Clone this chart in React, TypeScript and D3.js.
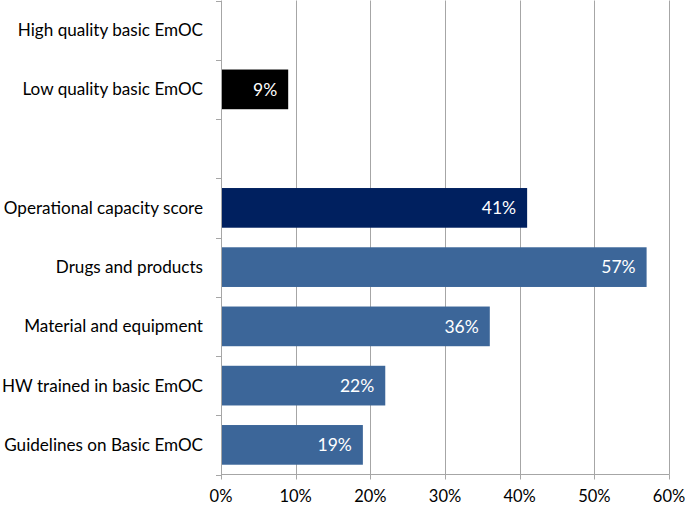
import React from "react";
import * as d3 from "d3";

const categories = [
  "High quality basic EmOC",
  "Low quality basic EmOC",
  "",
  "Operational capacity score",
  "Drugs and products",
  "Material and equipment",
  "HW trained in basic EmOC",
  "Guidelines on Basic EmOC",
];
const values: (number | null)[] = [null, 9, null, 41, 57, 36, 22, 19];
const barColors = ["#000000", "#000000", "#000000", "#00205F", "#3C6699", "#3C6699", "#3C6699", "#3C6699"];
const xTicks = [0, 10, 20, 30, 40, 50, 60];

const W = 685;
const H = 505;
const left = 221;
const right = 669;
const top = 0.5;
const bottom = 474.5;
const FONT = "Lato, 'Open Sans', sans-serif";

export default function App() {
  const x = d3.scaleLinear().domain([0, 60]).range([left, right]);
  const y = d3
    .scaleBand<number>()
    .domain(d3.range(categories.length))
    .range([top, bottom])
    .paddingInner(0.33)
    .paddingOuter(0.165);
  const step = y.step();
  const grid = "#A6A6A6";
  return (
    <svg width={W} height={H} style={{ position: "absolute", left: 0, top: 0, background: "#fff" }}>
      {xTicks.slice(1).map((t) => (
        <line key={"g" + t} x1={Math.round(x(t)) + 0.5} x2={Math.round(x(t)) + 0.5} y1={top} y2={bottom} stroke={grid} strokeWidth={1} />
      ))}
      {values.map((v, i) =>
        v == null ? null : (
          <g key={"b" + i}>
            <rect x={x(0)} y={y(i)} width={x(v) - x(0)} height={y.bandwidth()} fill={barColors[i]} />
            <text
              x={x(v) - 11}
              y={(y(i) as number) + y.bandwidth() / 2}
              dy="0.35em"
              textAnchor="end"
              fill="#fff"
              fontFamily={FONT}
              fontSize={17.5}
            >
              {v}%
            </text>
          </g>
        )
      )}
      {/* left axis */}
      <line x1={left + 0.5} x2={left + 0.5} y1={top} y2={bottom} stroke={grid} />
      {d3.range(categories.length + 1).map((k) => (
        <line key={"lt" + k} x1={left - 5} x2={left} y1={Math.round(top + k * step) + 0.5} y2={Math.round(top + k * step) + 0.5} stroke={grid} />
      ))}
      {categories.map((c, i) => (
        <text
          key={"c" + i}
          x={203}
          y={(y(i) as number) + y.bandwidth() / 2}
          dy="0.35em"
          textAnchor="end"
          fill="#000"
          fontFamily={FONT}
          fontSize={17.1}
        >
          {c}
        </text>
      ))}
      {/* bottom axis */}
      <line x1={left} x2={right + 0.5} y1={bottom} y2={bottom} stroke={grid} />
      {xTicks.map((t) => (
        <g key={"xt" + t}>
          <line x1={Math.round(x(t)) + 0.5} x2={Math.round(x(t)) + 0.5} y1={bottom} y2={bottom + 5} stroke={grid} />
          <text x={x(t)} y={496} dy="0.35em" textAnchor="middle" fontFamily={FONT} fontSize={16.5} fill="#000">
            {t}%
          </text>
        </g>
      ))}
    </svg>
  );
}
